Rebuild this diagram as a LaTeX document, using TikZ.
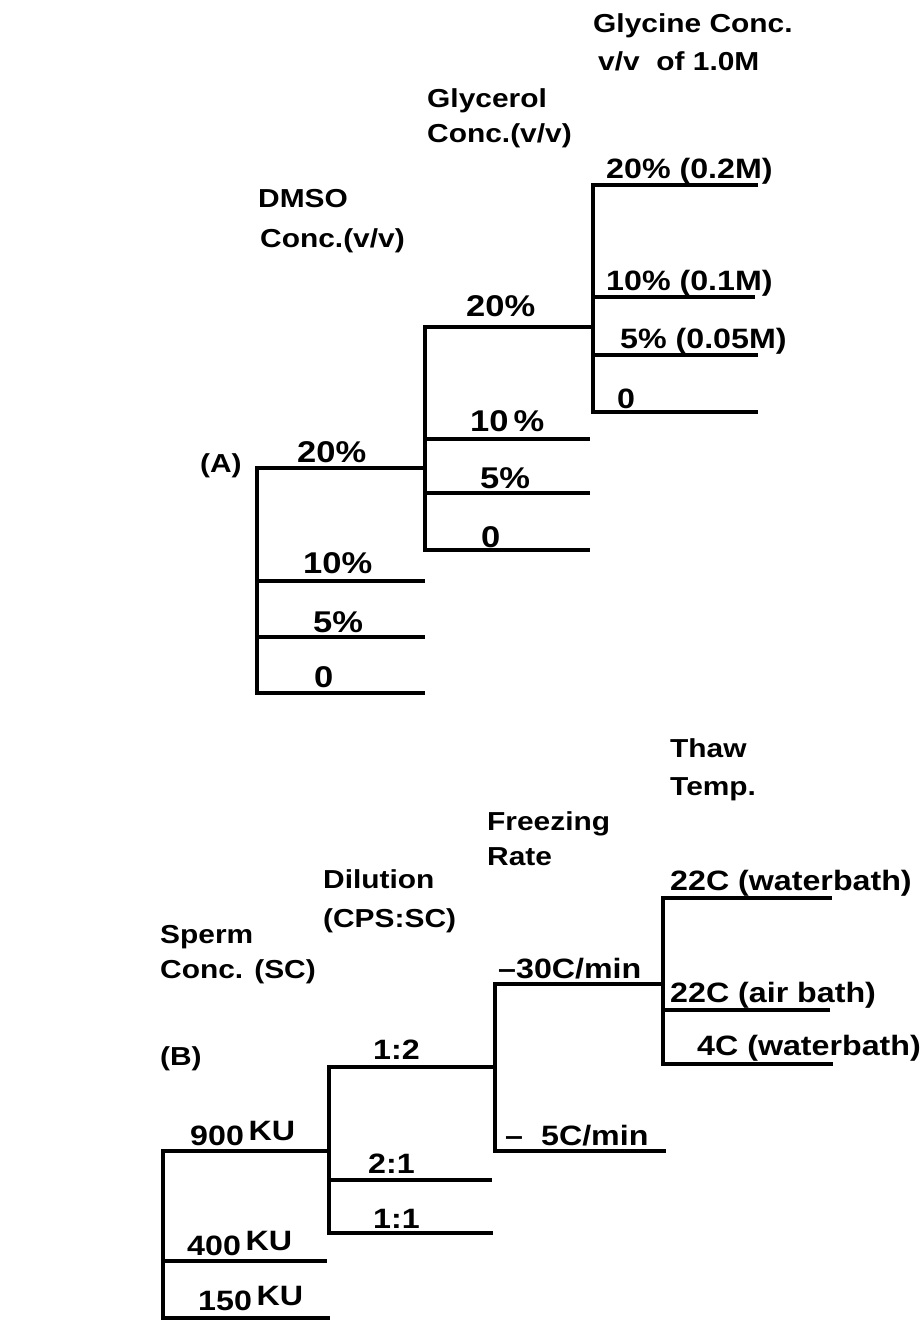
\documentclass[tikz,border=0pt]{standalone}
\usepackage{fontspec}
\setmainfont{Liberation Sans}[FakeStretch=1.15]
\begin{document}
\begin{tikzpicture}[x=1pt,y=-1pt,
  br/.style={line width=3.3pt, line join=miter},
  hd/.style={anchor=base west, inner sep=0pt, font=\fontsize{26}{28}\selectfont\bfseries},
  val/.style={anchor=base west, inner sep=0pt, font=\fontsize{28}{30}\selectfont\bfseries},
  bigval/.style={anchor=base west, inner sep=0pt, font=\fontsize{30}{32}\selectfont\bfseries}]
\useasboundingbox (0,0) rectangle (923,1328);
\newcommand{\ku}{\,\raisebox{5pt}{KU}}
% ---------- (A) coordinates ----------
\coordinate (dT) at (257,468); \coordinate (dB) at (257,693); \coordinate (d0e) at (425,693);
\coordinate (d10) at (257,581); \coordinate (d10e) at (425,581);
\coordinate (d5) at (257,637); \coordinate (d5e) at (425,637);
\coordinate (gJ) at (425,468);
\coordinate (gT) at (425,327); \coordinate (gB) at (425,550); \coordinate (g0e) at (590,550);
\coordinate (g10) at (425,439); \coordinate (g10e) at (590,439);
\coordinate (g5) at (425,493); \coordinate (g5e) at (590,493);
\coordinate (cJ) at (593,327);
\coordinate (cT) at (593,185); \coordinate (c20e) at (758,185);
\coordinate (cB) at (593,412); \coordinate (c0e) at (758,412);
\coordinate (c10) at (593,297); \coordinate (c10e) at (755,297);
\coordinate (c5) at (593,355); \coordinate (c5e) at (758,355);
% ---------- (A) lines ----------
\draw[br] (gJ) -- (dT) -- (dB) -- (d0e);
\draw[br] (d10) -- (d10e);
\draw[br] (d5) -- (d5e);
\draw[br] (cJ) -- (gT) -- (gB) -- (g0e);
\draw[br] (g10) -- (g10e);
\draw[br] (g5) -- (g5e);
\draw[br] (c20e) -- (cT) -- (cB) -- (c0e);
\draw[br] (c10) -- (c10e);
\draw[br] (c5) -- (c5e);
% ---------- (A) text ----------
\node[hd] (labA) at (200,472) {(A)};
\node[hd] (hG1) at (593,32) {Glycine Conc.};
\node[hd] (hG2) at (598,70) {v/v\ \ of 1.0M};
\node[hd] (hY1) at (427,107) {Glycerol};
\node[hd] (hY2) at (427,142) {Conc.(v/v)};
\node[hd] (hD1) at (258,207) {DMSO};
\node[hd] (hD2) at (260,247) {Conc.(v/v)};
\node[bigval] (vd20) at (297,462) {20\%};
\node[bigval] (vd10) at (303,573) {10\%};
\node[bigval] (vd5) at (313,632) {5\%};
\node[bigval] (vd0) at (314,687) {0};
\node[bigval] (vg20) at (466,316) {20\%};
\node[bigval] (vg10) at (470,431) {10\,\%};
\node[bigval] (vg5) at (480,488) {5\%};
\node[bigval] (vg0) at (481,547) {0};
\node[val] (vc20) at (606,178) {20\% (0.2M)};
\node[val] (vc10) at (606,290) {10\% (0.1M)};
\node[val] (vc5) at (620,348) {5\% (0.05M)};
\node[val] (vc0) at (617,408) {0};
% ---------- (B) coordinates ----------
\coordinate (sT) at (163,1151); \coordinate (lJ) at (329,1151);
\coordinate (sB) at (163,1318); \coordinate (s150e) at (330,1318);
\coordinate (s400) at (163,1261); \coordinate (s400e) at (327,1261);
\coordinate (lT) at (329,1067); \coordinate (fJ) at (495,1067);
\coordinate (lB) at (329,1233); \coordinate (l11e) at (493,1233);
\coordinate (l21) at (329,1180); \coordinate (l21e) at (492,1180);
\coordinate (fT) at (495,984); \coordinate (tJ) at (663,984);
\coordinate (fB) at (495,1151); \coordinate (f5e) at (666,1151);
\coordinate (tT) at (663,898); \coordinate (t22e) at (832,898);
\coordinate (tB) at (663,1064); \coordinate (t4e) at (833,1064);
\coordinate (tA) at (663,1010); \coordinate (tAe) at (830,1010);
% ---------- (B) lines ----------
\draw[br] (lJ) -- (sT) -- (sB) -- (s150e);
\draw[br] (s400) -- (s400e);
\draw[br] (fJ) -- (lT) -- (lB) -- (l11e);
\draw[br] (l21) -- (l21e);
\draw[br] (tJ) -- (fT) -- (fB) -- (f5e);
\draw[br] (t22e) -- (tT) -- (tB) -- (t4e);
\draw[br] (tA) -- (tAe);
% ---------- (B) text ----------
\node[hd] (labB) at (160,1065) {(B)};
\node[hd] (hS1) at (160,943) {Sperm};
\node[hd] (hS2) at (160,978) {Conc. (SC)};
\node[hd] (hL1) at (323,888) {Dilution};
\node[hd] (hL2) at (323,927) {(CPS:SC)};
\node[hd] (hF1) at (487,830) {Freezing};
\node[hd] (hF2) at (487,865) {Rate};
\node[hd] (hT1) at (670,757) {Thaw};
\node[hd] (hT2) at (670,795) {Temp.};
\node[val] (vs900) at (190,1145) {900\ku};
\node[val] (vs400) at (187,1255) {400\ku};
\node[val] (vs150) at (198,1310) {150\ku};
\node[val] (vl12) at (373,1059) {1:2};
\node[val] (vl21) at (368,1173) {2:1};
\node[val] (vl11) at (373,1228) {1:1};
\node[val] (vf30) at (498,978) {–30C/min};
\node[val] (vf5) at (505,1145) {–\hspace{18pt}5C/min};
\node[val] (vt22w) at (670,890) {22C (waterbath)};
\node[val] (vt22a) at (670,1002) {22C (air bath)};
\node[val] (vt4) at (697,1055) {4C (waterbath)};
\end{tikzpicture}
\end{document}
